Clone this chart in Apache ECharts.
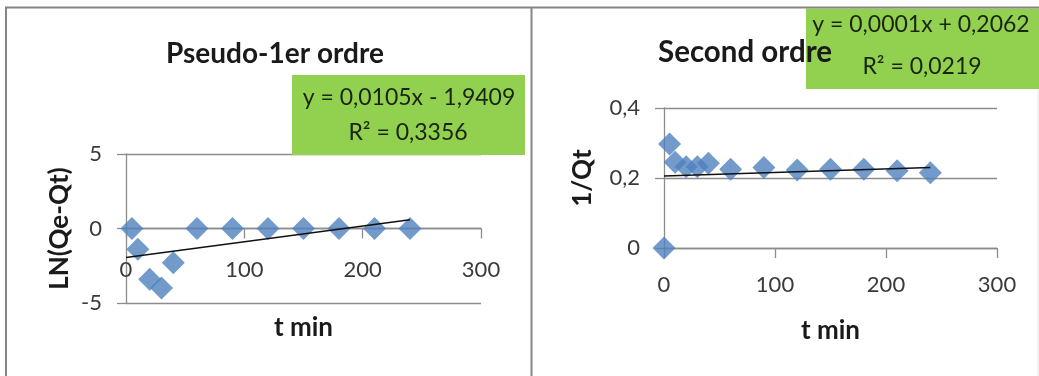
<!DOCTYPE html>
<html><head><meta charset="utf-8">
<script src="https://cdn.jsdelivr.net/npm/echarts@6/dist/echarts.min.js"></script>
<style>html,body{margin:0;padding:0;background:#fff}#c{width:1039px;height:376px}</style>
</head><body><div id="c"></div>
<script>
// Pseudo-1er ordre data
var tPseudo1 = [5, 10, 20, 30, 40, 60, 90, 120, 150, 180, 210, 240];
var lnQeQt = [0, -1.4, -3.4, -4.0, -2.3, 0, 0, 0, 0, 0, 0, 0];
var trendPseudo1 = [[0, -1.94], [240, 0.58]];
// Second ordre data
var tSecond = [0, 5, 10, 20, 30, 40, 60, 90, 120, 150, 180, 210, 240];
var invQt = [0, 0.297, 0.245, 0.232, 0.232, 0.242, 0.225, 0.23, 0.223, 0.225, 0.225, 0.221, 0.215];
var trendSecond = [[0, 0.206], [240, 0.230]];
// labels
var titles = ['Pseudo-1er ordre', 'Second ordre'];
var eq1 = ['y = 0,0105x - 1,9409', 'R\u00b2 = 0,3356'];
var eq2 = ['y = 0,0001x + 0,2062', 'R\u00b2 = 0,0219'];

var FONT = 'Lato';
var GRID = '#8c8c8c';
var BLUE = '#4F81BD';

function pairs(xs, ys){ return xs.map(function(x,i){ return [x, ys[i]]; }); }

var chart = echarts.init(document.getElementById('c'), null, {renderer:'canvas'});

function xAxisCfg(gridIndex, nameGap, labelMargin, offset){
  return {
    type:'value', gridIndex:gridIndex, min:0, max:300, interval:100,
    position:'bottom', offset:offset,
    name:'t min', nameLocation:'middle', nameGap:nameGap,
    nameTextStyle:{fontFamily:FONT, fontWeight:'bold', fontSize:26, color:'#1a1a1a'},
    axisLine:{show:true, onZero:false, lineStyle:{color:GRID, width:1.3}},
    axisTick:{show:true, inside:false, length:10, lineStyle:{color:GRID, width:1.3}},
    axisLabel:{margin:labelMargin, fontFamily:FONT, fontSize:22, color:'#3a3a3a'},
    splitLine:{show:false}
  };
}
function yAxisCfg(gridIndex, min, max, interval, name, nameGap, fmt){
  return {
    type:'value', gridIndex:gridIndex, min:min, max:max, interval:interval,
    name:name, nameLocation:'middle', nameGap:nameGap, nameRotate:90,
    nameTextStyle:{fontFamily:FONT, fontWeight:'bold', fontSize:26, color:'#1a1a1a'},
    axisLine:{show:true, onZero:false, lineStyle:{color:GRID, width:1.3}},
    axisTick:{show:true, inside:false, length:9, lineStyle:{color:GRID, width:1.3}},
    axisLabel:{margin:24, fontFamily:FONT, fontSize:22, color:'#3a3a3a', formatter:fmt},
    splitLine:{show:true, lineStyle:{color:GRID, width:1.3}}
  };
}
function commaFmt(v){ return String(Math.round(v*10)/10).replace('.', ','); }

var option = {
  backgroundColor:'#ffffff',
  animation:false,
  title:[
    {text:titles[0], left:270, top:35, textAlign:'center', z:10,
     textStyle:{fontFamily:FONT, fontWeight:'bold', fontSize:28, color:'#1a1a1a'}},
    {text:titles[1], left:740, top:32, textAlign:'center', z:10,
     textStyle:{fontFamily:FONT, fontWeight:'bold', fontSize:29.5, color:'#1a1a1a'}}
  ],
  grid:[
    {left:126, top:154, width:355, height:149, containLabel:false, outerBoundsMode:'none'},
    {left:664, top:108, width:333, height:140, containLabel:false, outerBoundsMode:'none'}
  ],
  xAxis:[ xAxisCfg(0, 86, 30, -74.5), xAxisCfg(1, 70, 26, 0) ],
  yAxis:[
    yAxisCfg(0, -5, 5, 5, 'LN(Qe-Qt)', 53, function(v){return String(v);}),
    yAxisCfg(1, 0, 0.4, 0.2, '1/Qt', 68, commaFmt)
  ],
  series:[
    {type:'line', xAxisIndex:0, yAxisIndex:0, data:trendPseudo1, showSymbol:false, symbol:'none',
     lineStyle:{color:'#111', width:1.5}, z:3, silent:true},
    {type:'scatter', xAxisIndex:0, yAxisIndex:0, data:pairs(tPseudo1, lnQeQt), symbol:'diamond', symbolSize:23,
     itemStyle:{color:BLUE}, z:2},
    {type:'line', xAxisIndex:1, yAxisIndex:1, data:trendSecond, showSymbol:false, symbol:'none',
     lineStyle:{color:'#111', width:1.5}, z:3, silent:true},
    {type:'scatter', xAxisIndex:1, yAxisIndex:1, data:pairs(tSecond, invQt), symbol:'diamond', symbolSize:23,
     itemStyle:{color:BLUE}, z:2}
  ],
  graphic:[
    // panel borders
    {type:'line', shape:{x1:5, y1:7.5, x2:1039, y2:7.5}, style:{stroke:'#858585', lineWidth:2}, z:50},
    {type:'line', shape:{x1:6, y1:7, x2:6, y2:376}, style:{stroke:'#858585', lineWidth:2}, z:50},
    {type:'line', shape:{x1:531.5, y1:7, x2:531.5, y2:376}, style:{stroke:'#858585', lineWidth:2}, z:50},
    {type:'line', shape:{x1:1038, y1:90, x2:1038, y2:376}, style:{stroke:'#e4e4e4', lineWidth:1}, z:50},
    // equation boxes
    {type:'rect', shape:{x:292, y:75, width:233, height:80}, style:{fill:'#92D050'}, z:1},
    {type:'text', x:409, y:98, style:{text:eq1[0], fontFamily:FONT, fontSize:23, fill:'#1a2410', align:'center', verticalAlign:'middle'}, z:20},
    {type:'text', x:408, y:133, style:{text:eq1[1], fontFamily:FONT, fontSize:23, fill:'#1a2410', align:'center', verticalAlign:'middle'}, z:20},
    {type:'rect', shape:{x:806, y:8.5, width:233, height:80.5}, style:{fill:'#92D050'}, z:1},
    {type:'text', x:921, y:25, style:{text:eq2[0], fontFamily:FONT, fontSize:23, fill:'#1a2410', align:'center', verticalAlign:'middle'}, z:20},
    {type:'text', x:922, y:67, style:{text:eq2[1], fontFamily:FONT, fontSize:23, fill:'#1a2410', align:'center', verticalAlign:'middle'}, z:20}
  ]
};
chart.setOption(option);
</script></body></html>
